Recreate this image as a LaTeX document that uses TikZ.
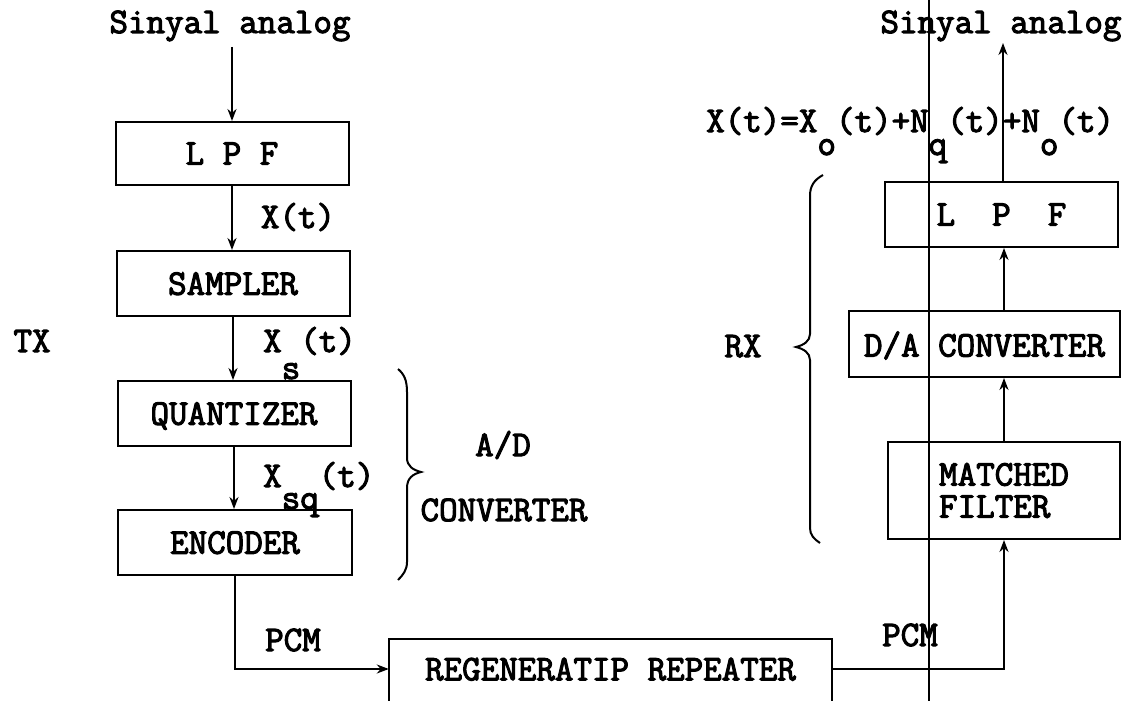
\documentclass[tikz,border=0pt]{standalone}
\usepackage{fontspec}
\newfontfamily\tw{Latin Modern Mono}[FakeBold=3]
\usetikzlibrary{arrows.meta}
\begin{document}
\begin{tikzpicture}[x=1pt,y=-1pt,
  tw/.style={font=\tw\fontsize{36}{32}\selectfont, inner sep=0pt},
  blk/.style={tw, draw, line width=2pt, text depth=0pt},
  lbl/.style={tw, anchor=base},
  lblw/.style={tw, anchor=base west},
  conn/.style={line width=2pt, -{Stealth[length=12pt,width=9pt]}},
  br/.style={line width=2pt}]
\useasboundingbox (0,0) rectangle (1128,701);
\clip (0,0) rectangle (1128,701);

% transmitter column
\node[blk, minimum width=233pt, minimum height=63pt] (lpf) at (232,153.5) {L P F};
\node[blk, minimum width=233pt, minimum height=65pt] (smp) at (233,283.5) {SAMPLER};
\node[blk, minimum width=233pt, minimum height=65pt] (qnt) at (234,413.5) {QUANTIZER};
\node[blk, minimum width=234pt, minimum height=65pt] (enc) at (235,542.5) {ENCODER};

% repeater (cut by the lower edge)
\node[tw, text depth=0pt, minimum width=443pt, minimum height=60pt] (rep) at (610.5,669) {REGENERATIP REPEATER};
\draw[br] ([yshift=-6pt]rep.south west) -- (rep.north west) -- (rep.north east) -- ([yshift=-6pt]rep.south east);

% receiver column
\node[blk, minimum width=233pt, minimum height=65pt] (lpf2) at (1001.5,214.5) {L~~P~~F};
\node[blk, minimum width=271pt, minimum height=66pt] (da) at (984.5,344) {D/A CONVERTER};
\node[tw, draw, line width=2pt, align=left, minimum width=232pt, minimum height=97pt] (mf) at (1004,490.5) {MATCHED\\FILTER};

% connectors
\coordinate (in) at (232,47);
\coordinate (out) at (1003,43);
\draw[conn] (in) -- (in |- lpf.north);
\draw[conn] (lpf.south) -- (lpf.south |- smp.north);
\draw[conn] (smp.south) -- (smp.south |- qnt.north);
\draw[conn] (qnt.south) -- (qnt.south |- enc.north);
\draw[conn] (enc.south) |- (rep.west);
\draw[conn] (rep.east) -| (mf.south);
\draw[conn] (mf.north) -- (mf.north |- da.south);
\draw[conn] (mf.north |- da.north) -- (mf.north |- lpf2.south);
\draw[conn] (out |- lpf2.north) -- (out);

% labels
\node[lbl] (sin1) at (230,33) {Sinyal analog};
\node[lbl] (sin2) at (1001,33) {Sinyal analog};
\node[lbl] (xt) at (298,228) {X(t)};
\node[lbl] (tx) at (32,352) {TX};
\node[lblw] (xs) at (263,352) {X\hphantom{s}(t)};
\node[lblw] (xssub) at (263,379) {\hphantom{X}s};
\node[lblw] (xsq) at (263,487) {X\hphantom{sq}(t)};
\node[lblw] (xsqsub) at (263,509) {\hphantom{X}sq};
\node[lbl] (ad) at (503,456) {A/D};
\node[lbl] (conv) at (504,521) {CONVERTER};
\node[lbl] (rx) at (743,357) {RX};
\node[lbl] (pcm1) at (293,651) {PCM};
\node[lbl] (pcm2) at (910,646) {PCM};
\node[lblw] (eq) at (706,132) {X(t)=X\hphantom{o}(t)+N\hphantom{q}(t)+N\hphantom{o}(t)};
\node[lblw] (eqsub) at (706,155) {\hphantom{X(t)=X}o\hphantom{(t)+N}q\hphantom{(t)+N}o};

% braces
\draw[br] (398,369) .. controls (404,374) and (407,380) .. (407,392) -- (407,458)
  .. controls (407,466) and (413,470) .. (421,472)
  .. controls (413,474) and (407,478) .. (407,488) -- (407,562)
  .. controls (407,570) and (403,575) .. (398,580);
\draw[br] (823,175) .. controls (814,180) and (810,186) .. (810,196) -- (810,334)
  .. controls (810,341) and (804,345) .. (796,347)
  .. controls (804,349) and (810,353) .. (810,360) -- (810,528)
  .. controls (810,535) and (814,539) .. (820,543);

% vertical line across the page
\draw[line width=2pt] (929,0) -- (929,701);
\end{tikzpicture}
\end{document}
